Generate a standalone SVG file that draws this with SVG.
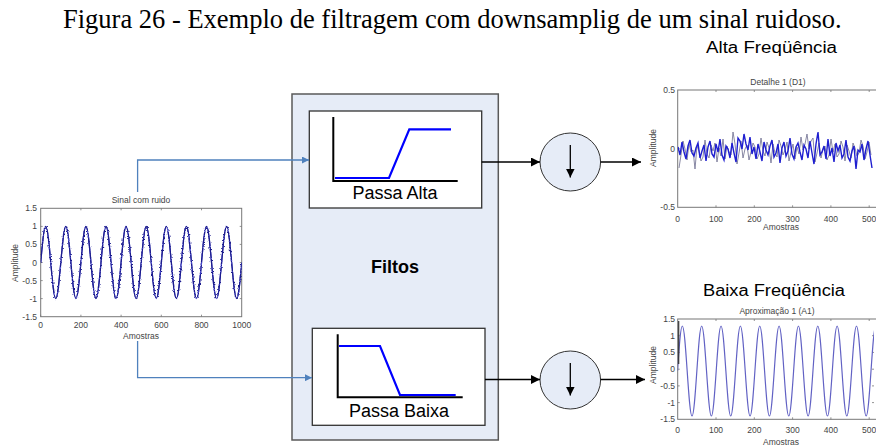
<svg xmlns="http://www.w3.org/2000/svg" width="876" height="448" viewBox="0 0 876 448">
<style>
.pt{font-family:"Liberation Sans",Arial,sans-serif;font-size:8.5px;fill:#444}
.fr{fill:#fff;stroke:#777;stroke-width:1}
.tk{stroke:#777;stroke-width:0.8}
.lbl{font-family:"Liberation Sans",Arial,sans-serif;fill:#000}
.fbox{fill:#fff;stroke:#333;stroke-width:1.3}
.ax{fill:none;stroke:#000;stroke-width:2}
.resp{fill:none;stroke:#0000ff;stroke-width:2.2}
.dn{fill:#e6ecf7;stroke:#333;stroke-width:1}
.bl{fill:none;stroke:#4f81bd;stroke-width:1.3}
.bk{fill:none;stroke:#000;stroke-width:1.3}
</style>
<defs>
<marker id="ab" viewBox="0 0 10 10" refX="10" refY="5" markerWidth="10" markerHeight="9" markerUnits="userSpaceOnUse" orient="auto"><path d="M0,0 L10,5 L0,10 z" fill="#000"/></marker>
<marker id="ad" viewBox="0 0 10 10" refX="10" refY="5" markerWidth="9" markerHeight="10" markerUnits="userSpaceOnUse" orient="auto"><path d="M0,0 L10,5 L0,10 z" fill="#000"/></marker>
<marker id="abl" viewBox="0 0 10 10" refX="10" refY="5" markerWidth="9" markerHeight="7" markerUnits="userSpaceOnUse" orient="auto"><path d="M0,0 L10,5 L0,10 z" fill="#4f81bd"/></marker>
<filter id="jit" filterUnits="userSpaceOnUse" x="0" y="0" width="876" height="448">
<feTurbulence type="fractalNoise" baseFrequency="0.7" numOctaves="1" seed="7" result="n"/>
<feDisplacementMap in="SourceGraphic" in2="n" scale="3.5" xChannelSelector="R" yChannelSelector="G"/>
</filter>
<clipPath id="c1"><rect x="40.7" y="205" width="201" height="115"/></clipPath>
<clipPath id="c2"><rect x="677.7" y="90" width="200" height="117.3"/></clipPath>
<clipPath id="c3"><rect x="677.7" y="319" width="196.3" height="100.3"/></clipPath>
</defs>

<g id="title">
<text x="63" y="28" style="font-family:'Liberation Serif','Times New Roman',serif;font-size:26.5px;fill:#000">Figura 26 - Exemplo de filtragem com downsamplig de um sinal ruidoso.</text>
</g>
<g id="label-alta"><text class="lbl" x="706" y="52.5" font-size="16" textLength="131" lengthAdjust="spacingAndGlyphs">Alta Freqüência</text></g>
<g id="label-baixa"><text class="lbl" x="703" y="296" font-size="16" textLength="142" lengthAdjust="spacingAndGlyphs">Baixa Freqüência</text></g>

<g id="plot-input">
<text class="pt" x="141" y="202.5" text-anchor="middle">Sinal com ruido</text>
<rect class="fr" x="40.7" y="208.3" width="201" height="108.4"/>
<path class="tk" d="M40.7,316.7v-2M80.9,316.7v-2M121.1,316.7v-2M161.3,316.7v-2M201.5,316.7v-2M80.9,208.3v2M121.1,208.3v2M161.3,208.3v2M201.5,208.3v2M40.7,226.4h2M40.7,244.4h2M40.7,262.5h2M40.7,280.6h2M40.7,298.6h2M241.7,226.4h-2M241.7,244.4h-2M241.7,262.5h-2M241.7,280.6h-2M241.7,298.6h-2"/>
<g clip-path="url(#c1)">
<path fill="none" stroke="#4646d0" stroke-width="1.2" d="M40.7,262.5 c1.639,-18.44 3.206,-36 5.025,-36 s3.386,17.56 5.025,36 s3.206,36 5.025,36 s3.386,-17.56 5.025,-36 s3.206,-36 5.025,-36 s3.386,17.56 5.025,36 s3.206,36 5.025,36 s3.386,-17.56 5.025,-36 s3.206,-36 5.025,-36 s3.386,17.56 5.025,36 s3.206,36 5.025,36 s3.386,-17.56 5.025,-36 s3.206,-36 5.025,-36 s3.386,17.56 5.025,36 s3.206,36 5.025,36 s3.386,-17.56 5.025,-36 s3.206,-36 5.025,-36 s3.386,17.56 5.025,36 s3.206,36 5.025,36 s3.386,-17.56 5.025,-36 s3.206,-36 5.025,-36 s3.386,17.56 5.025,36 s3.206,36 5.025,36 s3.386,-17.56 5.025,-36 s3.206,-36 5.025,-36 s3.386,17.56 5.025,36 s3.206,36 5.025,36 s3.386,-17.56 5.025,-36 s3.206,-36 5.025,-36 s3.386,17.56 5.025,36 s3.206,36 5.025,36 s3.386,-17.56 5.025,-36 s3.206,-36 5.025,-36 s3.386,17.56 5.025,36 s3.206,36 5.025,36 s3.386,-17.56 5.025,-36 s3.206,-36 5.025,-36 s3.386,17.56 5.025,36 s3.206,36 5.025,36 s3.386,-17.56 5.025,-36"/>
<path filter="url(#jit)" fill="none" stroke="#1c1c8c" stroke-width="1.3" d="M40.7,262.5 c1.639,-18.44 3.206,-36 5.025,-36 s3.386,17.56 5.025,36 s3.206,36 5.025,36 s3.386,-17.56 5.025,-36 s3.206,-36 5.025,-36 s3.386,17.56 5.025,36 s3.206,36 5.025,36 s3.386,-17.56 5.025,-36 s3.206,-36 5.025,-36 s3.386,17.56 5.025,36 s3.206,36 5.025,36 s3.386,-17.56 5.025,-36 s3.206,-36 5.025,-36 s3.386,17.56 5.025,36 s3.206,36 5.025,36 s3.386,-17.56 5.025,-36 s3.206,-36 5.025,-36 s3.386,17.56 5.025,36 s3.206,36 5.025,36 s3.386,-17.56 5.025,-36 s3.206,-36 5.025,-36 s3.386,17.56 5.025,36 s3.206,36 5.025,36 s3.386,-17.56 5.025,-36 s3.206,-36 5.025,-36 s3.386,17.56 5.025,36 s3.206,36 5.025,36 s3.386,-17.56 5.025,-36 s3.206,-36 5.025,-36 s3.386,17.56 5.025,36 s3.206,36 5.025,36 s3.386,-17.56 5.025,-36 s3.206,-36 5.025,-36 s3.386,17.56 5.025,36 s3.206,36 5.025,36 s3.386,-17.56 5.025,-36 s3.206,-36 5.025,-36 s3.386,17.56 5.025,36 s3.206,36 5.025,36 s3.386,-17.56 5.025,-36"/>
</g>
<g class="pt" text-anchor="end">
<text x="37" y="211.3">1.5</text><text x="37" y="229.4">1</text><text x="37" y="247.4">0.5</text><text x="37" y="265.5">0</text><text x="37" y="283.6">-0.5</text><text x="37" y="301.6">-1</text><text x="37" y="319.7">-1.5</text>
</g>
<g class="pt" text-anchor="middle">
<text x="40.7" y="328">0</text><text x="80.9" y="328">200</text><text x="121.1" y="328">400</text><text x="161.3" y="328">600</text><text x="201.5" y="328">800</text><text x="241.7" y="328">1000</text>
<text x="141" y="338.5">Amostras</text>
<text transform="translate(18,263) rotate(-90)">Amplitude</text>
</g>
</g>

<g id="plot-detail">
<text class="pt" x="778" y="84.5" text-anchor="middle">Detalhe 1 (D1)</text>
<rect class="fr" x="677.7" y="90" width="200" height="117.3"/>
<path class="tk" d="M716,207.3v-2M754.3,207.3v-2M792.6,207.3v-2M830.9,207.3v-2M869.2,207.3v-2M716,90v2M754.3,90v2M792.6,90v2M830.9,90v2M869.2,90v2M677.7,148.65h2"/>
<g clip-path="url(#c2)">
<polyline fill="none" stroke="#7a7a9a" stroke-width="0.9" points="679,168 681,155 683,141 685,149 687,160 689,144 691,152 693,150 695,169 697,146 699,151 701,161 703,157 705,140 707,154 709,158 711,145 713,151 715,143 717,162 719,148 721,156 723,139 725,159 727,146 729,152 731,155 733,132 735,144 737,164 739,153 741,141 743,158 745,149 747,145 749,160 751,152 753,143 755,147 757,159 759,154 761,138 763,151 765,156 767,142 769,148 771,163 773,144 775,153 777,157 779,140 781,146 783,155 785,150 787,142 789,161 791,152 793,144 795,159 797,147 799,154 801,137 803,150 805,144 807,134 809,149 811,141 813,138 815,162 817,153 819,143 821,158 823,149 825,146 827,160 829,155 831,139 833,152 835,144 837,157 839,154 841,141 843,147 845,161 847,145 849,151 851,158 853,143 855,148 857,156 859,153 861,140 863,146 865,159 867,152 869,142 871,155"/>
<polyline fill="none" stroke="#1f1fd0" stroke-width="1.4" points="678,147 680,155 682,142 684,152 686,159 688,146 690,140 692,153 694,156 696,148 698,143 700,158 702,151 704,145 706,161 708,147 710,141 712,154 714,157 716,144 718,152 720,139 722,155 724,160 726,146 728,149 730,158 732,143 734,153 736,162 738,138 740,141 742,149 744,134 746,144 748,150 750,137 752,154 754,147 756,159 758,144 760,152 762,161 764,142 766,150 768,155 770,146 772,140 774,157 776,153 778,144 780,163 782,148 784,142 786,156 788,151 790,138 792,154 794,159 796,147 798,143 800,152 802,160 804,145 806,149 808,158 810,141 812,153 814,164 816,144 818,132 820,155 822,152 824,146 826,159 828,139 830,156 832,148 834,162 836,143 838,151 840,145 842,158 844,154 846,140 848,157 850,161 852,151 854,146 856,169 858,150 860,152 862,144 864,160 866,149 868,141 870,155 872,168"/>
</g>
<g class="pt" text-anchor="end">
<text x="675" y="93">0.5</text><text x="675" y="152">0</text><text x="675" y="210">-0.5</text>
</g>
<g class="pt" text-anchor="middle">
<text x="677.7" y="221.5">0</text><text x="716" y="221.5">100</text><text x="754.3" y="221.5">200</text><text x="792.6" y="221.5">300</text><text x="830.9" y="221.5">400</text><text x="869.2" y="221.5">500</text>
<text x="781" y="230">Amostras</text>
<text transform="translate(656,148) rotate(-90)">Amplitude</text>
</g>
</g>

<g id="plot-approx">
<text class="pt" x="777" y="314" text-anchor="middle">Aproximação 1 (A1)</text>
<rect class="fr" x="677.7" y="319" width="200" height="100.3"/>
<path class="tk" d="M716,419.3v-2M754.3,419.3v-2M792.6,419.3v-2M830.9,419.3v-2M869.2,419.3v-2M716,319v2M754.3,319v2M792.6,319v2M830.9,319v2M869.2,319v2M677.7,335.7h2M677.7,352.4h2M677.7,369.2h2M677.7,385.9h2M677.7,402.6h2M874,335.7h-2M874,352.4h-2M874,369.2h-2M874,385.9h-2M874,402.6h-2"/>
<g clip-path="url(#c3)">
<path fill="none" stroke="#6262c4" stroke-width="1.2" d="M677.5,371 c1.5775,-23.05 3.087,-45 4.8375,-45 s3.26,21.95 4.8375,45 s3.087,45 4.8375,45 s3.26,-21.95 4.8375,-45 s3.087,-45 4.8375,-45 s3.26,21.95 4.8375,45 s3.087,45 4.8375,45 s3.26,-21.95 4.8375,-45 s3.087,-45 4.8375,-45 s3.26,21.95 4.8375,45 s3.087,45 4.8375,45 s3.26,-21.95 4.8375,-45 s3.087,-45 4.8375,-45 s3.26,21.95 4.8375,45 s3.087,45 4.8375,45 s3.26,-21.95 4.8375,-45 s3.087,-45 4.8375,-45 s3.26,21.95 4.8375,45 s3.087,45 4.8375,45 s3.26,-21.95 4.8375,-45 s3.087,-45 4.8375,-45 s3.26,21.95 4.8375,45 s3.087,45 4.8375,45 s3.26,-21.95 4.8375,-45 s3.087,-45 4.8375,-45 s3.26,21.95 4.8375,45 s3.087,45 4.8375,45 s3.26,-21.95 4.8375,-45 s3.087,-45 4.8375,-45 s3.26,21.95 4.8375,45 s3.087,45 4.8375,45 s3.26,-21.95 4.8375,-45 s3.087,-45 4.8375,-45 s3.26,21.95 4.8375,45 s3.087,45 4.8375,45 s3.26,-21.95 4.8375,-45 s3.087,-45 4.8375,-45 s3.26,21.95 4.8375,45 s3.087,45 4.8375,45 s3.26,-21.95 4.8375,-45 s3.087,-45 4.8375,-45 s3.26,21.95 4.8375,45 s3.087,45 4.8375,45 s3.26,-21.95 4.8375,-45"/>
<path fill="none" stroke="#333" stroke-width="1.2" d="M678.7,321 V364"/>
</g>
<g class="pt" text-anchor="end">
<text x="675" y="322">1.5</text><text x="675" y="338.7">1</text><text x="675" y="355.4">0.5</text><text x="675" y="372.2">0</text><text x="675" y="388.9">-0.5</text><text x="675" y="405.6">-1</text><text x="675" y="422.3">-1.5</text>
</g>
<g class="pt" text-anchor="middle">
<text x="677.7" y="433">0</text><text x="716" y="433">100</text><text x="754.3" y="433">200</text><text x="792.6" y="433">300</text><text x="830.9" y="433">400</text><text x="869.2" y="433">500</text>
<text x="781" y="445">Amostras</text>
<text transform="translate(656,365) rotate(-90)">Amplitude</text>
</g>
</g>

<g id="filtros">
<rect x="292" y="94" width="206.3" height="346" fill="#e6ecf7" stroke="#595959" stroke-width="1.5"/>
<text class="lbl" x="395" y="272.7" font-size="18" font-weight="bold" text-anchor="middle">Filtos</text>
</g>

<g id="passa-alta">
<rect class="fbox" x="309.3" y="111" width="172.4" height="97"/>
<path class="ax" d="M333.3,117 V181 H457.7"/>
<path class="resp" d="M335,178 H389 L409.3,129.3 H451"/>
<text class="lbl" x="395" y="199.3" font-size="18" text-anchor="middle">Passa Alta</text>
</g>

<g id="passa-baixa">
<rect class="fbox" x="312.3" y="328.3" width="172.7" height="97"/>
<path class="ax" d="M337.7,334.3 V397.3 H462.7"/>
<path class="resp" d="M339,346 H380 L400,395 H455.7"/>
<text class="lbl" x="399" y="417.3" font-size="18" text-anchor="middle">Passa Baixa</text>
</g>

<g id="down-top">
<ellipse class="dn" cx="570.3" cy="162" rx="30.3" ry="29"/>
<line class="bk" x1="570.3" y1="145" x2="570.3" y2="177.5" marker-end="url(#ad)"/>
</g>
<g id="down-bottom">
<ellipse class="dn" cx="570.3" cy="380" rx="30.3" ry="29"/>
<line class="bk" x1="570.3" y1="363" x2="570.3" y2="395.5" marker-end="url(#ad)"/>
</g>

<g id="connectors">
<path class="bl" d="M137.6,192 V160 H309" marker-end="url(#abl)"/>
<path class="bl" d="M137.6,341 V377.7 H312" marker-end="url(#abl)"/>
<line class="bk" x1="481.7" y1="162" x2="540" y2="162" marker-end="url(#ab)"/>
<line class="bk" x1="600.6" y1="162" x2="641" y2="162" marker-end="url(#ab)"/>
<line class="bk" x1="485" y1="379.5" x2="540" y2="379.5" marker-end="url(#ab)"/>
<line class="bk" x1="600.6" y1="379.5" x2="645" y2="379.5" marker-end="url(#ab)"/>
</g>
</svg>
